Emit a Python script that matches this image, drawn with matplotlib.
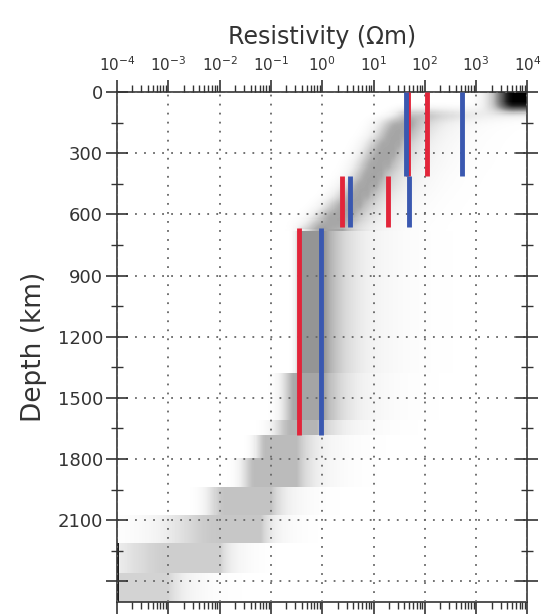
import numpy as np
import matplotlib
matplotlib.use("Agg")
import matplotlib.pyplot as plt
from matplotlib.ticker import LogLocator, NullFormatter, FixedLocator, MultipleLocator

# depth blocks of the posterior density (km), core range in log10(ohm m),
# fall-off left / right (decades), darkness, pile-up at left edge
blk_top = [0, 90, 130, 180, 230, 280, 330, 380, 430, 480, 530, 580, 630,
           680, 1380, 1610, 1680, 1795, 1935, 2075, 2210, 2360]
blk_bot = [90, 130, 180, 230, 280, 330, 380, 430, 480, 530, 580, 630, 680,
           1380, 1610, 1680, 1795, 1935, 2075, 2210, 2360, 2500]
core_lo = [3.75, 1.7, 1.45, 1.35, 1.2, 1.1, 1.0, 0.9, 0.75, 0.6, 0.4, 0.2, 0.0,
           -0.4, -0.5, -0.6, -1.1, -1.3, -1.9, -2.0, -3.0, -4.0]
core_hi = [3.98, 2.1, 1.75, 1.65, 1.5, 1.4, 1.3, 1.15, 1.05, 0.9, 0.75, 0.6, 0.4,
           0.05, 0.05, -0.1, -0.5, -0.5, -1.0, -1.2, -2.0, -3.0]
fall_l = [0.3, 0.2, 0.25, 0.25, 0.25, 0.25, 0.25, 0.25, 0.25, 0.25, 0.25, 0.25, 0.25,
          0.08, 0.2, 0.25, 0.15, 0.2, 0.25, 0.8, 0.8, 0.5]
fall_r = [0.05, 1.2, 0.55, 0.5, 0.5, 0.5, 0.5, 0.5, 0.5, 0.5, 0.5, 0.5, 0.5,
          0.6, 0.55, 0.5, 0.45, 0.4, 0.35, 0.3, 0.3, 0.4]
darkness = [1.0, 0.4, 0.45, 0.45, 0.45, 0.45, 0.45, 0.45, 0.45, 0.45, 0.45, 0.45, 0.45,
            0.5, 0.45, 0.4, 0.38, 0.38, 0.35, 0.33, 0.3, 0.28]
edge = [0, 0, 0, 0, 0, 0, 0, 0, 0, 0, 0, 0, 0, 0, 0, 0, 0, 0, 0, 0, 0.9, 0.9]

# layered models: resistivity (ohm m), top and bottom depth (km)
red_rho = [46, 110, 2.4, 19, 0.35]
red_top = [0, 0, 410, 410, 665]
red_bot = [410, 410, 660, 660, 1680]
blue_rho = [42, 520, 3.5, 50, 0.93]
blue_top = [0, 0, 410, 410, 665]
blue_bot = [410, 410, 660, 660, 1680]

y_ticks = [0, 300, 600, 900, 1200, 1500, 1800, 2100, 2400]
y_labels = ["0", "300", "600", "900", "1200", "1500", "1800", "2100", ""]

# density grid
xe = np.linspace(-4, 4, 401)
xc = 0.5 * (xe[1:] + xe[:-1])
ye = np.arange(0, 2505, 5)
yc = 0.5 * (ye[1:] + ye[:-1])
dens = np.zeros((len(yc), len(xc)))
for i, d in enumerate(yc):
    for k in range(len(blk_top)):
        if blk_top[k] <= d < blk_bot[k]:
            row = np.ones_like(xc)
            l = xc < core_lo[k]
            r = xc > core_hi[k]
            row[l] = np.exp(-0.5 * ((xc[l] - core_lo[k]) / fall_l[k]) ** 2)
            row[r] = np.exp(-(xc[r] - core_hi[k]) / fall_r[k])
            dens[i] = darkness[k] * row
            if edge[k]:
                dens[i, :2] = edge[k]
            break

# soften the upper part vertically
kern = np.exp(-0.5 * (np.arange(-12, 13) / 4.0) ** 2)
kern /= kern.sum()
sm = np.array([np.convolve(np.pad(dens[:, j], 12, mode="edge"), kern, mode="valid")
               for j in range(dens.shape[1])]).T
top = yc < 670
top[:10] = False
dens[top] = sm[top]

fig = plt.figure(figsize=(5.48, 6.14), dpi=100)
ax = fig.add_axes([0.2135, 0.02, 0.749, 0.830])
ax.pcolormesh(10 ** xe, ye, dens, cmap="Greys", vmin=0, vmax=1, shading="flat",
              zorder=0, rasterized=True)

for rho, t, b in zip(red_rho, red_top, red_bot):
    ax.plot([rho, rho], [t, b], color="#e2253a", lw=3.5, zorder=3, solid_capstyle="butt")
for rho, t, b in zip(blue_rho, blue_top, blue_bot):
    ax.plot([rho, rho], [t, b], color="#3a58b0", lw=3.5, zorder=3, solid_capstyle="butt")

ax.set_xscale("log")
ax.set_xlim(1e-4, 1e4)
ax.set_ylim(2500, 0)
ax.xaxis.set_major_locator(LogLocator(base=10, numticks=20))
ax.xaxis.set_minor_locator(LogLocator(base=10, subs=np.arange(2, 10), numticks=20))
ax.xaxis.set_minor_formatter(NullFormatter())
ax.yaxis.set_major_locator(FixedLocator(y_ticks))
ax.set_yticklabels(y_labels)
ax.yaxis.set_minor_locator(MultipleLocator(150))

ax.tick_params(axis="x", which="both", top=True, bottom=True, labeltop=True,
               labelbottom=False, direction="out", color="#333", labelsize=11,
               labelcolor="#333", pad=4)
ax.tick_params(axis="x", which="major", length=9, width=1.2)
ax.tick_params(axis="x", which="minor", length=5, width=1)
ax.tick_params(axis="y", which="both", left=True, right=True, direction="inout",
               color="#333", labelsize=13, labelcolor="#333")
ax.tick_params(axis="y", which="major", length=16, width=1.2, pad=2)
ax.tick_params(axis="y", which="minor", length=8, width=1)

ax.grid(True, which="major", ls=(0, (1, 4)), color="#666", lw=1.3, zorder=2)
ax.set_axisbelow(False)
for s in ax.spines.values():
    s.set_color("#333")
    s.set_linewidth(1.2)

ax.xaxis.set_label_position("top")
ax.set_xlabel("Resistivity (\u03a9m)", fontsize=17, color="#333", labelpad=8)
ax.set_ylabel("Depth (km)", fontsize=19, color="#333", labelpad=8)

fig.savefig("out.png", dpi=100)
